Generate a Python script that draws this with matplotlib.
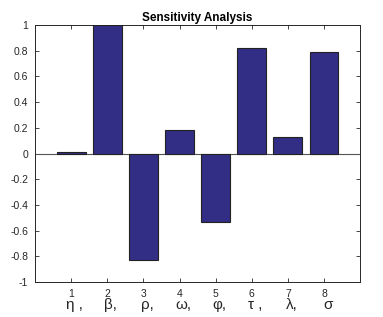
import numpy as np
import matplotlib.pyplot as plt
import matplotlib.transforms as mtransforms

plt.rcParams['font.family'] = ['Liberation Sans', 'DejaVu Sans']

# sensitivity indices
params = [1, 2, 3, 4, 5, 6, 7, 8]
values = [0.01, 1.0, -0.83, 0.18, -0.53, 0.82, 0.13, 0.79]
symbols = ['η ,', 'β,', 'ρ,', 'ω,', 'φ,', 'τ ,', 'λ,', 'σ']

fig = plt.figure(figsize=(3.83, 3.17), dpi=100)
ax = fig.add_axes([0.0914, 0.110, 0.849, 0.811])

ax.bar(params, values, width=0.8, color='#332E85', edgecolor='#222222', linewidth=0.8, zorder=3)
ax.axhline(0, color='#555555', linewidth=0.8, zorder=2)

ax.set_xlim(0, 9)
ax.set_ylim(-1, 1)
ax.set_xticks(params)
ax.set_yticks(np.arange(-1, 1.01, 0.2))
ax.set_yticklabels(['-1', '-0.8', '-0.6', '-0.4', '-0.2', '0', '0.2', '0.4', '0.6', '0.8', '1'])
ax.tick_params(direction='in', length=3, width=0.6, top=True, right=True,
               labelsize=7.5, colors='#262626', pad=5)
for s in ax.spines.values():
    s.set_linewidth(0.7)
    s.set_color('#262626')

ax.set_title('Sensitivity Analysis', fontsize=8.5, fontweight='bold', pad=3)

trans = mtransforms.blended_transform_factory(ax.transData, ax.transAxes)
for p, sym in zip(params, symbols):
    ax.text(p + 0.1, -0.09, sym, transform=trans, ha='center', va='center',
            fontsize=11, color='#262626')

fig.savefig('out.png', dpi=100)
